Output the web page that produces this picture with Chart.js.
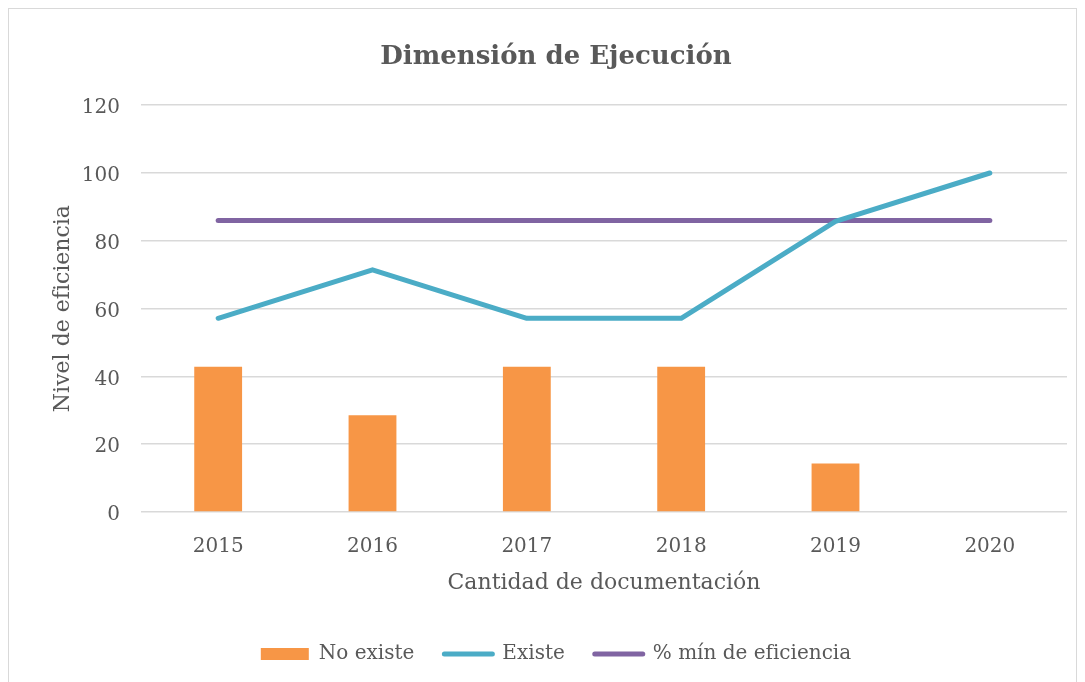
<!DOCTYPE html>
<html lang="es">
<head>
  <meta charset="UTF-8">
  <title>Dimensión de Ejecución</title>
  <script src="https://cdn.jsdelivr.net/npm/chart.js"></script>
  <style>
    body { margin: 0; background: #fff; }
    .frame { position: absolute; left: 8px; top: 8px; width: 1067px; height: 680px; border: 1px solid #d9d9d9; }
    canvas { display: block; }
  </style>
</head>
<body>
  <div class="frame"><canvas id="chart" width="1067" height="673"></canvas></div>

  <script>
    const years = ['2015', '2016', '2017', '2018', '2019', '2020'];
    const noExiste = [42.86, 28.57, 42.86, 42.86, 14.29, 0];
    const existe = [57.14, 71.43, 57.14, 57.14, 85.71, 100];
    const minEficiencia = [86, 86, 86, 86, 86, 86];

    const gris = '#595959';
    const serif = 'DejaVu Serif';

    new Chart(document.getElementById('chart'), {
      data: {
        labels: years,
        datasets: [
          { type: 'bar', label: 'No existe', data: noExiste, backgroundColor: '#F79646', borderWidth: 0,
            categoryPercentage: 1, barPercentage: 0.31 },
          { type: 'line', label: 'Existe', data: existe, borderColor: '#4BACC6', backgroundColor: '#4BACC6',
            borderWidth: 5, pointRadius: 0, tension: 0, borderCapStyle: 'round', borderJoinStyle: 'round' },
          { type: 'line', label: '% mín de eficiencia', data: minEficiencia, borderColor: '#8064A2', backgroundColor: '#8064A2',
            borderWidth: 5, pointRadius: 0, borderCapStyle: 'round' }
        ]
      },
      options: {
        responsive: false,
        animation: false,
        layout: { padding: { left: 36, right: 9, top: 0, bottom: 8 } },
        plugins: {
          title: {
            display: true, text: 'Dimensión de Ejecución', color: gris,
            font: { family: serif, size: 26, weight: 'bold' },
            padding: { top: 33, bottom: 32 }
          },
          legend: {
            position: 'bottom',
            labels: {
              color: gris, font: { family: serif, size: 20 },
              usePointStyle: true, pointStyleWidth: 48, boxHeight: 12, padding: 30,
              generateLabels(chart) {
                const items = Chart.defaults.plugins.legend.labels.generateLabels(chart);
                return items.map((it, i) => {
                  const ds = chart.data.datasets[i];
                  if (ds.type === 'bar') {
                    it.pointStyle = 'rect'; it.lineWidth = 0; it.fillStyle = ds.backgroundColor;
                  } else {
                    it.pointStyle = 'line'; it.lineWidth = 5; it.strokeStyle = ds.borderColor; it.lineCap = 'round';
                  }
                  return it;
                });
              }
            }
          },
          tooltip: { enabled: false }
        },
        scales: {
          x: {
            grid: { display: false },
            border: { display: false },
            ticks: { color: gris, font: { family: serif, size: 20 }, padding: 15 },
            title: { display: true, text: 'Cantidad de documentación', color: gris,
              font: { family: serif, size: 22 }, padding: { top: 0, bottom: 18 } },
            afterFit(s) { s.height = 102; }
          },
          y: {
            min: 0, max: 120,
            ticks: { stepSize: 20, color: gris, font: { family: serif, size: 20 }, padding: 21, labelOffset: 3 },
            grid: { color: '#d9d9d9', lineWidth: 1.5, drawTicks: false },
            border: { display: false },
            title: { display: true, text: 'Nivel de eficiencia', color: gris,
              font: { family: serif, size: 22 }, padding: { top: 5, bottom: 0 } },
            afterFit(s) { s.width = 96; }
          }
        }
      }
    });
  </script>
</body>
</html>
